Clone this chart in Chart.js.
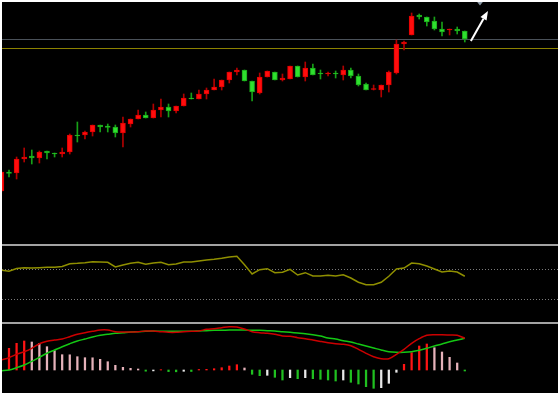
<!DOCTYPE html>
<html>
<head>
<meta charset="utf-8">
<script src="https://cdn.jsdelivr.net/npm/chart.js@4.4.1/dist/chart.umd.min.js"></script>
<style>
  html, body { margin: 0; padding: 0; background: #fff; }
  #wrap { position: absolute; left: 2px; top: 2px; width: 556px; height: 391px; background: #000; overflow: hidden; }
  canvas, .sep { position: absolute; left: 0; }
  #price { top: 0; }
  #sep1 { top: 242px; }
  #rsi { top: 244px; }
  #sep2 { top: 320px; }
  #macd { top: 322px; }
  .sep { width: 556px; height: 2px; background: #a3a3a3; }
</style>
</head>
<body>
<div id="wrap">
  <canvas id="price" width="556" height="242"></canvas>
  <div class="sep" id="sep1"></div>
  <canvas id="rsi" width="556" height="76"></canvas>
  <div class="sep" id="sep2"></div>
  <canvas id="macd" width="556" height="69"></canvas>
</div>
<script>
/* ── data ────────────────────────────────────────────────────────── */
const open = [
  10.9, 12.8, 12.7, 14.1, 14.4, 14.2, 14.9, 14.7, 14.6, 14.8,
  16.5, 16.5, 16.8, 17.5, 17.4, 17.3, 16.7, 17.6, 18.1, 18.5,
  18.2, 19.0, 19.3, 18.9, 19.4, 20.2, 20.1, 20.6, 21.0, 21.3,
  22.0, 22.8, 23.0, 21.9, 20.7, 22.3, 22.8, 22.0, 22.1, 23.4,
  22.3, 23.2, 22.7, 22.6, 22.7, 22.5, 23.0, 22.4, 21.6, 21.05,
  21.0, 21.5, 22.7, 25.6, 26.5, 28.5, 28.3, 27.9, 27.1, 27.0,
  27.1, 26.9,
];
const high = [
  12.9, 13.0, 14.3, 15.2, 15.0, 14.9, 14.9, 14.7, 15.2, 16.6,
  17.8, 16.9, 17.5, 17.5, 17.6, 17.5, 18.3, 18.1, 19.0, 18.8,
  19.6, 20.1, 19.6, 19.4, 20.6, 20.7, 21.0, 21.2, 22.1, 22.0,
  22.8, 23.2, 23.0, 21.9, 22.7, 22.9, 22.8, 22.6, 23.4, 23.4,
  23.8, 23.6, 23.0, 22.8, 22.9, 23.4, 23.2, 22.6, 21.7, 21.5,
  21.5, 22.9, 26.0, 25.9, 28.7, 28.6, 28.3, 28.3, 27.8, 27.1,
  27.3, 26.9,
];
const low = [
  10.8, 12.3, 12.1, 13.8, 13.6, 13.7, 14.1, 14.3, 14.3, 14.6,
  15.8, 16.1, 16.4, 16.8, 16.8, 16.3, 15.3, 17.3, 18.1, 18.2,
  18.2, 18.3, 18.3, 18.7, 19.4, 20.1, 20.1, 20.1, 21.0, 21.0,
  21.7, 22.5, 21.9, 19.9, 20.6, 22.3, 22.0, 21.9, 22.1, 22.3,
  21.9, 22.5, 22.1, 22.4, 22.2, 22.0, 22.2, 21.4, 21.0, 21.0,
  20.3, 20.8, 22.6, 25.0, 26.5, 28.1, 27.4, 27.0, 26.4, 26.5,
  26.6, 25.8,
];
const close = [
  12.8, 12.65, 14.1, 14.3, 14.2, 14.8, 14.7, 14.6, 14.8, 16.5,
  16.4, 16.8, 17.5, 17.3, 17.25, 16.7, 17.7, 18.1, 18.5, 18.2,
  19.0, 19.3, 18.9, 19.4, 20.2, 20.1, 20.6, 21.0, 21.3, 22.0,
  22.8, 23.0, 21.9, 20.8, 22.3, 22.9, 22.0, 22.2, 23.4, 22.3,
  23.2, 22.5, 22.6, 22.7, 22.6, 23.0, 22.4, 21.5, 21.0, 21.12,
  21.5, 22.8, 25.6, 25.8, 28.4, 28.3, 27.8, 27.1, 26.8, 27.1,
  26.9, 26.1,
];
const priceLevels = [26.07, 25.17];          // gray / olive horizontal lines
const arrowFrom = [61.8, 25.9];
const arrowTo = [64.05, 28.9];
const markerAt = [63, 29.45];

const rsi = [
  68.3, 66.9, 70.7, 71.6, 71.3, 71.7, 72.3, 72.3, 73.3, 77.1,
  77.6, 78.4, 79.7, 79.3, 78.9, 72.7, 75.3, 77.6, 78.9, 76.3,
  78.0, 78.9, 75.7, 76.7, 79.3, 79.3, 80.7, 82.0, 82.9, 84.3,
  86.0, 86.9, 75.7, 63.3, 69.1, 70.4, 65.1, 65.6, 69.6, 62.0,
  65.1, 60.7, 60.7, 61.6, 60.7, 62.4, 58.0, 52.3, 49.1, 49.1,
  52.3, 60.3, 70.0, 71.3, 78.0, 77.1, 74.0, 70.0, 66.0, 67.3,
  66.0, 60.3,
];
const rsiLevels = [70, 30];

const dif = [
  10, 12.3, 15.7, 18.3, 21.7, 26.3, 28.7, 30, 31, 33.3,
  35.7, 37.3, 38.7, 40, 40, 38.3, 38, 38, 38.3, 39,
  39, 38.3, 37.7, 37.7, 38.3, 38.7, 39, 40.7, 41.3, 42.3,
  43.3, 43, 41, 38.3, 37.3, 36.7, 35.7, 34, 33.7, 32.3,
  31.3, 30, 28.6, 27.3, 26.3, 25.7, 24.3, 20.7, 16.7, 13.3,
  11.3, 11.3, 15.7, 20.7, 26.7, 31.3, 34.7, 35.3, 35.3, 35,
  34.7, 31.7,
];
const dea = [
  -0.7, 0, 2.3, 5, 8.7, 12.7, 16.7, 20, 23.3, 26.3,
  29, 31, 33, 34.7, 35.7, 36.7, 37.3, 38, 38.3, 38.7,
  39, 38.7, 38.7, 38.7, 38.7, 38.7, 39, 39.3, 39.7, 39.7,
  40, 40, 40, 39.7, 39.7, 39.3, 39, 38.3, 37.7, 37,
  36.3, 35.3, 34, 32, 31, 29.3, 28, 26, 24, 22,
  20, 18.3, 17.7, 17.7, 18.3, 19.7, 21.7, 24, 26, 28.3,
  30, 31.7,
];
const macdHist = [
  null, 21.7, 26.7, 29, 28, 26.7, 23.3, 19.3, 15.3, 15.2,
  13.3, 12.3, 12.2, 10.7, 8.3, 4.7, 2.7, 1.7, 1, -1.2,
  -0.9, 0.3, -1.6, -1.8, -1.3, -1.5, 0.5, 0.7, 1.3, 2.3,
  4, 5.3, 2, -4.3, -5.7, -5.3, -7.3, -10, -7.7, -8.7,
  -7.7, -8.7, -9.3, -10, -11, -10, -12.3, -14, -16.7, -18.3,
  -17.7, -13.3, -2.3, 5.7, 17.3, 24, 26, 22.3, 18, 12.7,
  7, -1,
];

/* ── shared settings ─────────────────────────────────────────────── */
const X_MIN = 0.079;
const X_MAX = 73.27;
const UP = '#ff0d0d', UP_EDGE = '#e00000', UP_WICK = '#b00000';
const DOWN = '#2fe02f', DOWN_EDGE = '#1aa81a', DOWN_WICK = '#17a017';

function baseOptions(yMin, yMax) {
  return {
    responsive: false,
    animation: false,
    events: [],
    layout: { padding: 0 },
    plugins: { legend: { display: false }, tooltip: { enabled: false } },
    scales: {
      x: { type: 'linear', min: X_MIN, max: X_MAX, offset: false, display: false },
      y: { type: 'linear', min: yMin, max: yMax, display: false },
    },
  };
}

function hLine(ctx, area, y, color, dash) {
  const py = Math.round(y) + 0.5;
  ctx.save();
  ctx.strokeStyle = color;
  ctx.lineWidth = 1;
  ctx.setLineDash(dash || []);
  ctx.beginPath();
  ctx.moveTo(area.left, py);
  ctx.lineTo(area.right, py);
  ctx.stroke();
  ctx.restore();
}

/* ── price panel ─────────────────────────────────────────────────── */
const idx = close.map((_, i) => i);
const isUp = idx.map(i => close[i] >= open[i]);

const priceOverlay = {
  id: 'priceOverlay',
  beforeDatasetsDraw(chart) {
    const { ctx, chartArea, scales: { y } } = chart;
    hLine(ctx, chartArea, y.getPixelForValue(priceLevels[0]), '#4a5159');
    hLine(ctx, chartArea, y.getPixelForValue(priceLevels[1]), '#8c8200');
  },
  afterDatasetsDraw(chart) {
    const { ctx, scales: { x, y } } = chart;
    const x0 = x.getPixelForValue(arrowFrom[0]), y0 = y.getPixelForValue(arrowFrom[1]);
    const x1 = x.getPixelForValue(arrowTo[0]), y1 = y.getPixelForValue(arrowTo[1]);
    const ang = Math.atan2(y1 - y0, x1 - x0);
    const head = 9, half = 3.5;
    const bx = x1 - head * Math.cos(ang), by = y1 - head * Math.sin(ang);
    ctx.save();
    ctx.strokeStyle = '#ffffff';
    ctx.fillStyle = '#ffffff';
    ctx.lineWidth = 2;
    ctx.beginPath();
    ctx.moveTo(x0, y0);
    ctx.lineTo(bx, by);
    ctx.stroke();
    ctx.beginPath();
    ctx.moveTo(x1, y1);
    ctx.lineTo(bx + half * Math.sin(ang), by - half * Math.cos(ang));
    ctx.lineTo(bx - half * Math.sin(ang), by + half * Math.cos(ang));
    ctx.closePath();
    ctx.fill();
    // little gray marker at the top
    const mx = x.getPixelForValue(markerAt[0]), my = y.getPixelForValue(markerAt[1]);
    ctx.fillStyle = '#8c99a6';
    ctx.beginPath();
    ctx.moveTo(mx - 4, my - 5);
    ctx.lineTo(mx + 4, my - 5);
    ctx.lineTo(mx, my);
    ctx.closePath();
    ctx.fill();
    ctx.restore();
  },
};

new Chart(document.getElementById('price'), {
  type: 'bar',
  data: {
    datasets: [
      {
        label: 'body',
        data: idx.map(i => ({ x: i, y: [open[i], close[i]] })),
        backgroundColor: idx.map(i => (isUp[i] ? UP : DOWN)),
        borderColor: idx.map(i => (isUp[i] ? UP_EDGE : DOWN_EDGE)),
        borderWidth: 1,
        borderSkipped: false,
        barThickness: 5,
        minBarLength: 1,
        grouped: false,
      },
      {
        label: 'wick',
        data: idx.map(i => ({ x: i, y: [low[i], high[i]] })),
        backgroundColor: idx.map(i => (isUp[i] ? UP_WICK : DOWN_WICK)),
        borderWidth: 0,
        barThickness: 1,
        grouped: false,
      },
    ],
  },
  options: baseOptions(5.6, 29.8),
  plugins: [priceOverlay],
});

/* ── RSI panel ───────────────────────────────────────────────────── */
new Chart(document.getElementById('rsi'), {
  type: 'line',
  data: {
    datasets: [{
      data: idx.map(i => ({ x: i, y: rsi[i] })),
      borderColor: '#8f8f00',
      borderWidth: 1.5,
      pointRadius: 0,
      tension: 0,
    }],
  },
  options: baseOptions(-0.67, 100.67),
  plugins: [{
    id: 'rsiLevels',
    beforeDatasetsDraw(chart) {
      const { ctx, chartArea, scales: { y } } = chart;
      rsiLevels.forEach(v => hLine(ctx, chartArea, y.getPixelForValue(v), '#7a7a7a', [1, 2]));
    },
  }],
});

/* ── MACD panel ──────────────────────────────────────────────────── */
const histColors = macdHist.map((v, i) => {
  const prev = i > 0 ? macdHist[i - 1] : null;
  if (v >= 0) return prev == null || v >= prev ? '#ff1414' : '#e6b2ba';
  return prev == null || v < prev ? '#20c020' : '#e8e8e8';
});

new Chart(document.getElementById('macd'), {
  type: 'bar',
  data: {
    datasets: [
      {
        type: 'line',
        label: 'DIF',
        data: idx.map(i => ({ x: i, y: dif[i] })),
        borderColor: '#cc0000',
        borderWidth: 1.5,
        pointRadius: 0,
        tension: 0.3,
      },
      {
        type: 'line',
        label: 'DEA',
        data: idx.map(i => ({ x: i, y: dea[i] })),
        borderColor: '#14c814',
        borderWidth: 1.5,
        pointRadius: 0,
        tension: 0.3,
      },
      {
        label: 'MACD',
        data: idx.filter(i => macdHist[i] != null).map(i => ({ x: i, y: macdHist[i] })),
        backgroundColor: idx.filter(i => macdHist[i] != null).map(i => histColors[i]),
        borderWidth: 0,
        barThickness: 1.6,
        grouped: false,
      },
    ],
  },
  options: baseOptions(-23, 46),
});
</script>
</body>
</html>
